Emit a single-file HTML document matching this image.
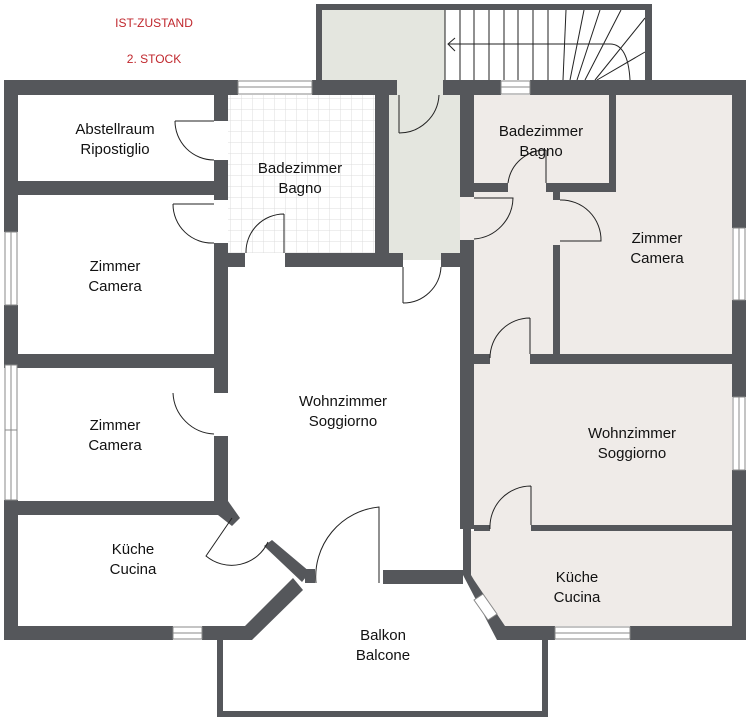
<!DOCTYPE html>
<html><head><meta charset="utf-8"><style>
html,body{margin:0;padding:0;background:#fff;}
svg{display:block}
text{font-family:"Liberation Sans",sans-serif;font-size:15px;fill:#111;text-anchor:middle}
.r{fill:#c0272d;font-size:12px}
</style></head><body>
<svg width="750" height="722" viewBox="0 0 750 722" xmlns="http://www.w3.org/2000/svg">
<defs>
<pattern id="tile" width="11" height="11" patternUnits="userSpaceOnUse"><path d="M11 0V11H0" fill="none" stroke="#dcdcdc" stroke-width="1"/></pattern>
</defs>
<!-- floors -->
<rect x="228" y="95" width="147" height="158" fill="#fff"/>
<rect x="228" y="95" width="147" height="158" fill="url(#tile)"/>
<rect x="389" y="80" width="71" height="180" fill="#e4e6df"/>
<rect x="322" y="10" width="123" height="80" fill="#e4e6df"/>
<rect x="460" y="197" width="14" height="43" fill="#efebe8"/>
<rect x="474" y="95" width="258" height="436" fill="#efebe8"/>
<polygon points="471,531 732,531 732,626 505,626 471,578" fill="#efebe8"/>
<!-- stairs -->
<g stroke="#222" stroke-width="1" fill="none">
<line x1="445" y1="10" x2="445" y2="80"/>
<line x1="460" y1="10" x2="460" y2="80"/><line x1="474" y1="10" x2="474" y2="80"/><line x1="489" y1="10" x2="489" y2="80"/><line x1="504" y1="10" x2="504" y2="80"/><line x1="518" y1="10" x2="518" y2="80"/><line x1="533" y1="10" x2="533" y2="80"/><line x1="548" y1="10" x2="548" y2="80"/>
<line x1="566" y1="10" x2="563" y2="80"/><line x1="584" y1="10" x2="570" y2="80"/><line x1="600" y1="10" x2="577" y2="80"/><line x1="621" y1="10" x2="585" y2="80"/><line x1="645" y1="18" x2="595" y2="80"/><line x1="645" y1="52" x2="597" y2="80"/>
<path d="M448 44H610Q628 44 630 80"/>
<path d="M455 38L448 44L455 51"/>
</g>
<!-- walls -->
<g fill="#55575b">
<rect x="316" y="4" width="336" height="6"/>
<rect x="316" y="4" width="6" height="80"/>
<rect x="645" y="4" width="7" height="80"/>
<rect x="4" y="80" width="234" height="15"/>
<rect x="312" y="80" width="85" height="15"/>
<rect x="443" y="80" width="58" height="15"/>
<rect x="530" y="80" width="216" height="15"/>
<rect x="4" y="80" width="14" height="152"/>
<rect x="4" y="305" width="14" height="60"/>
<rect x="4" y="500" width="14" height="140"/>
<rect x="4" y="181" width="224" height="14"/>
<rect x="4" y="354" width="224" height="14"/>
<rect x="4" y="501" width="216" height="14"/>
<polygon points="218,501 228,501 240,518 232,526 218,515"/>
<rect x="214" y="95" width="14" height="26"/>
<rect x="214" y="160" width="14" height="40"/>
<rect x="214" y="243" width="14" height="125"/>
<rect x="214" y="368" width="14" height="25"/>
<rect x="214" y="436" width="14" height="65"/>
<rect x="228" y="253" width="17" height="14"/>
<rect x="285" y="253" width="104" height="14"/>
<rect x="375" y="95" width="14" height="172"/>
<rect x="389" y="253" width="14" height="14"/>
<rect x="441" y="253" width="19" height="14"/>
<rect x="4" y="626" width="169" height="14"/>
<rect x="202" y="626" width="50" height="14"/>
<polygon points="245,626 293,578 303,590 252,640"/>
<polygon points="264,546 272,540 310,572 302,582"/>
<rect x="305" y="569" width="10" height="14"/>
<rect x="383" y="570" width="80" height="14"/>
<rect x="460" y="80" width="14" height="117"/>
<rect x="460" y="240" width="14" height="289"/>
<rect x="463" y="528" width="8" height="47"/>
<rect x="474" y="183" width="34" height="9"/>
<rect x="546" y="183" width="70" height="9"/>
<rect x="609" y="95" width="7" height="97"/>
<rect x="553" y="192" width="7" height="8"/>
<rect x="553" y="245" width="7" height="115"/>
<rect x="474" y="354" width="16" height="10"/>
<rect x="530" y="354" width="202" height="10"/>
<rect x="474" y="525" width="16" height="6"/>
<rect x="531" y="525" width="201" height="6"/>
<polygon points="463,575 471,575 474,580 505,626 505,640 497,640"/>
<rect x="505" y="626" width="50" height="14"/>
<rect x="630" y="626" width="116" height="14"/>
<rect x="732" y="80" width="14" height="148"/>
<rect x="732" y="300" width="14" height="97"/>
<rect x="732" y="470" width="14" height="170"/>
<rect x="217" y="640" width="6" height="77"/>
<rect x="217" y="711" width="331" height="6"/>
<rect x="542" y="640" width="6" height="77"/>
</g>
<!-- windows -->
<g fill="#fff" stroke="#888" stroke-width="1">
<rect x="238" y="81" width="74" height="13"/><line x1="238" y1="87" x2="312" y2="87"/>
<rect x="501" y="81" width="29" height="13"/><line x1="501" y1="87" x2="530" y2="87"/>
<rect x="5" y="232" width="12" height="73"/><line x1="11" y1="232" x2="11" y2="305"/>
<rect x="5" y="365" width="12" height="135"/><line x1="11" y1="365" x2="11" y2="500"/><line x1="5" y1="430" x2="17" y2="430"/>
<rect x="173" y="627" width="29" height="12"/><line x1="173" y1="633" x2="202" y2="633"/>
<rect x="555" y="627" width="75" height="12"/><line x1="555" y1="633" x2="630" y2="633"/>
<rect x="733" y="228" width="12" height="72"/><line x1="739" y1="228" x2="739" y2="300"/>
<rect x="733" y="397" width="12" height="73"/><line x1="739" y1="397" x2="739" y2="470"/>
</g>
<polygon points="474,600 483,594 497,614 488,620" fill="#fff" stroke="#888"/>
<!-- doors -->
<g fill="none" stroke="#222" stroke-width="1">
<path d="M175 121H214M175 121A39 39 0 0 0 214 160"/>
<path d="M173 204H214M173 204A39 39 0 0 0 214 243"/>
<path d="M284 214V253M284 214A38 38 0 0 0 246 253"/>
<path d="M399 133V95M399 133A40 40 0 0 0 439 95"/>
<path d="M403 303V267M403 303A38 38 0 0 0 441 267"/>
<path d="M474 198H513A42 42 0 0 1 474 239"/>
<path d="M546 150V183M508 183A38 38 0 0 1 546 150"/>
<path d="M560 200A40 40 0 0 1 601 241H560"/>
<path d="M530 318V354M490 358A40 40 0 0 1 530 318"/>
<path d="M531 486V525M490 529A41 41 0 0 1 531 486"/>
<path d="M173 393A43 43 0 0 0 214 434"/>
<path d="M232 518L206 556A40 40 0 0 0 268 542"/>
<path d="M316 583A70 70 0 0 1 379 507V583"/>
</g>
<!-- labels -->
<text class="r" x="154" y="27">IST-ZUSTAND</text>
<text class="r" x="154" y="63">2. STOCK</text>
<text x="115" y="134">Abstellraum</text><text x="115" y="154">Ripostiglio</text>
<text x="300" y="173">Badezimmer</text><text x="300" y="193">Bagno</text>
<text x="115" y="271">Zimmer</text><text x="115" y="291">Camera</text>
<text x="343" y="406">Wohnzimmer</text><text x="343" y="426">Soggiorno</text>
<text x="115" y="430">Zimmer</text><text x="115" y="450">Camera</text>
<text x="133" y="554">Küche</text><text x="133" y="574">Cucina</text>
<text x="383" y="640">Balkon</text><text x="383" y="660">Balcone</text>
<text x="541" y="136">Badezimmer</text><text x="541" y="156">Bagno</text>
<text x="657" y="243">Zimmer</text><text x="657" y="263">Camera</text>
<text x="632" y="438">Wohnzimmer</text><text x="632" y="458">Soggiorno</text>
<text x="577" y="582">Küche</text><text x="577" y="602">Cucina</text>
</svg>
</body></html>
